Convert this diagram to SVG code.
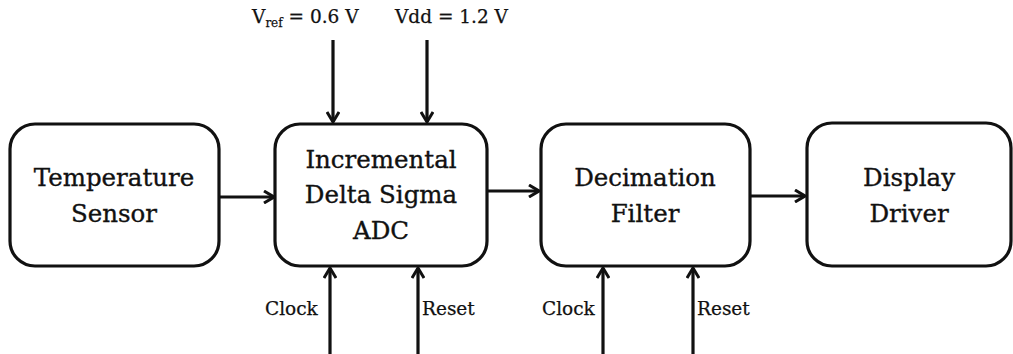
<svg xmlns="http://www.w3.org/2000/svg" width="1013" height="354" viewBox="0 0 1013 354">
<style>
.box{fill:#fff;stroke:#111;stroke-width:3.2}
.t{font-family:"DejaVu Serif","Liberation Serif",serif;font-size:24.5px;fill:#111;stroke:#111;stroke-width:0.35;text-anchor:middle}
.s{font-family:"DejaVu Serif","Liberation Serif",serif;font-size:18.5px;fill:#111;stroke:#111;stroke-width:0.25}
.c{stroke:#111;stroke-width:3.2;fill:none;marker-end:url(#ah)}
</style>
<defs>
<marker id="ah" viewBox="0 0 12 14" refX="11" refY="7" markerWidth="12" markerHeight="14" markerUnits="userSpaceOnUse" orient="auto">
<path d="M1,1 L11,7 L1,13" fill="none" stroke="#111" stroke-width="3"/>
</marker>
</defs>
<rect width="1013" height="354" fill="#fff"/>
<g id="connectors">
<line class="c" x1="219" y1="197" x2="274" y2="197"/>
<line class="c" x1="487" y1="191" x2="539" y2="191"/>
<line class="c" x1="750" y1="196" x2="805" y2="196"/>
<line class="c" x1="333" y1="40" x2="333" y2="122"/>
<line class="c" x1="427" y1="40" x2="427" y2="122"/>
<line class="c" x1="330" y1="354" x2="330" y2="268"/>
<line class="c" x1="418" y1="354" x2="418" y2="268"/>
<line class="c" x1="603" y1="354" x2="603" y2="268"/>
<line class="c" x1="693" y1="354" x2="693" y2="268"/>
</g>
<g id="labels">
<text class="s" x="252" y="23" font-size="19.5">V<tspan font-size="12" dy="4">ref</tspan><tspan dy="-4"> = 0.6 V</tspan></text>
<text class="s" x="395" y="23" font-size="19.5">Vdd = 1.2 V</text>
<text class="s" x="265" y="315">Clock</text>
<text class="s" x="422" y="315">Reset</text>
<text class="s" x="542" y="315">Clock</text>
<text class="s" x="697" y="315">Reset</text>
</g>
<g id="temperature-sensor">
<rect class="box" x="10" y="124" width="209" height="142" rx="25"/>
<text class="t" x="114" y="186">Temperature</text>
<text class="t" x="114" y="222">Sensor</text>
</g>
<g id="adc">
<rect class="box" x="275" y="124" width="212" height="142" rx="25"/>
<text class="t" x="381" y="168">Incremental</text>
<text class="t" x="381" y="203">Delta Sigma</text>
<text class="t" x="381" y="239">ADC</text>
</g>
<g id="decimation-filter">
<rect class="box" x="541" y="124" width="209" height="142" rx="25"/>
<text class="t" x="645" y="186">Decimation</text>
<text class="t" x="645" y="222">Filter</text>
</g>
<g id="display-driver">
<rect class="box" x="807" y="123" width="204" height="143" rx="25"/>
<text class="t" x="909" y="186">Display</text>
<text class="t" x="909" y="222">Driver</text>
</g>
</svg>
